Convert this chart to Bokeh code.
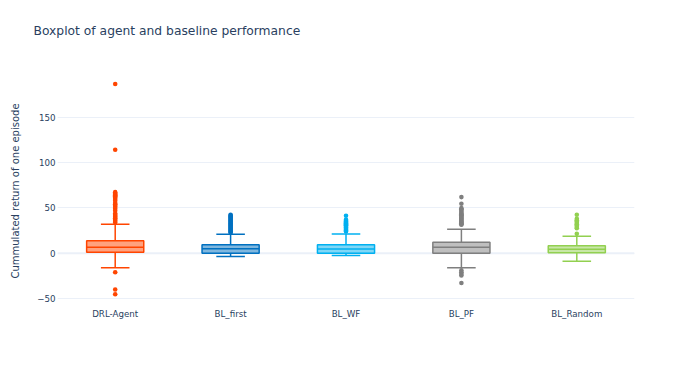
from bokeh.plotting import figure
from bokeh.models import FactorRange, Range1d, FixedTicker, Span, ColumnDataSource, Title
from bokeh.transform import dodge
from bokeh.embed import file_html
from bokeh.resources import INLINE

categories = ["DRL-Agent", "BL_first", "BL_WF", "BL_PF", "BL_Random"]
colors = ["#FF4500", "#0070C0", "#00B0F0", "#7F7F7F", "#92D050"]

lower_whisker = [-16.2, -3.6, -2.5, -16.2, -8.8]
q1 = [1.1, 0.0, 0.0, 0.0, 0.4]
median = [6.6, 4.8, 4.6, 6.6, 4.4]
q3 = [13.7, 9.2, 9.2, 12.2, 8.2]
upper_whisker = [32.0, 21.0, 21.3, 26.6, 18.8]

outliers_drl = [187, 114.4, 67.5, 66, 65, 64, 63, 61.5, 60, 58, 55.5, 54, 52.5, 51, 49, 47,
                44, 42.5, 41, 40, 38.5, 37, 35.5, 34, -21, -40.2, -45.4]
outliers_first = [42.5, 41.5, 40.5, 39.5, 38.5, 37.5, 36.5, 35.5, 34.5, 33.5, 32.5, 31.5, 30.5,
                  29.5, 28.5, 27.5, 26.5, 25.5, 24.5, 23.5, 22.5]
outliers_wf = [41.4, 37, 36, 35, 34, 33, 32, 31, 30, 29, 28, 27, 26, 25, 24]
outliers_pf = [62, 54.6, 49.8, 48.5, 47, 45.5, 44, 43, 42, 41, 40, 39, 38, 37, 36, 35, 34, 33,
               32, 31.4, -19, -21, -23, -24.6, -33]
outliers_random = [42.5, 38, 36.5, 35, 33.5, 32, 30.5, 29, 27.5, 21.4]
outliers = [outliers_drl, outliers_first, outliers_wf, outliers_pf, outliers_random]

TITLE = "Boxplot of agent and baseline performance"
FONT = "DejaVu Sans"
TXT = "#2a3f5f"
GRID = "#EBF0F8"
BOX_W = 0.495
CAP_W = 0.2475

p = figure(x_range=FactorRange(*categories), y_range=Range1d(-54.5, 192.0),
           width=678, height=349, output_backend="svg", toolbar_location=None,
           min_border_left=57, min_border_right=44, min_border_top=79, min_border_bottom=47)
p.outline_line_color = None
p.background_fill_color = "white"
p.border_fill_color = "white"

# spacer panel between frame and title, then the title itself (outermost)
p.add_layout(Title(text=" ", text_font_size="2px", standoff=38, text_color="white"), "above")
p.add_layout(Title(text=TITLE, text_font=FONT, text_font_size="12.3px", text_font_style="normal",
                   text_color=TXT, align="left", offset=-24, standoff=0), "above")

p.xgrid.grid_line_color = None
p.ygrid.grid_line_color = GRID
p.ygrid.grid_line_width = 1
p.add_layout(Span(location=0, dimension="width", line_color=GRID, line_width=2, level="underlay"))

p.yaxis.ticker = FixedTicker(ticks=[-50, 0, 50, 100, 150])
p.yaxis.major_label_overrides = {-50: "\u221250"}
for ax in (p.xaxis[0], p.yaxis[0]):
    ax.axis_line_color = None
    ax.major_tick_line_color = None
    ax.minor_tick_line_color = None
    ax.major_tick_out = 0
    ax.major_tick_in = 0
    ax.major_label_text_font = FONT
    ax.major_label_text_font_size = "8.7px"
    ax.major_label_text_color = TXT
p.yaxis.major_label_standoff = 2
p.xaxis.major_label_standoff = 6
p.yaxis.axis_label = "Cummulated return of one episode"
p.yaxis.axis_label_text_font = FONT
p.yaxis.axis_label_text_font_size = "10px"
p.yaxis.axis_label_text_font_style = "normal"
p.yaxis.axis_label_text_color = TXT
p.yaxis.axis_label_standoff = 13

src = ColumnDataSource(dict(cat=categories, color=colors, lo=lower_whisker, q1=q1,
                            med=median, q3=q3, hi=upper_whisker))
LW = 1.5
# whisker stems
p.segment(x0="cat", y0="q3", x1="cat", y1="hi", line_color="color", line_width=LW, source=src)
p.segment(x0="cat", y0="q1", x1="cat", y1="lo", line_color="color", line_width=LW, source=src)
# caps
p.segment(x0=dodge("cat", -CAP_W / 2, range=p.x_range), y0="hi",
          x1=dodge("cat", CAP_W / 2, range=p.x_range), y1="hi",
          line_color="color", line_width=LW, source=src)
p.segment(x0=dodge("cat", -CAP_W / 2, range=p.x_range), y0="lo",
          x1=dodge("cat", CAP_W / 2, range=p.x_range), y1="lo",
          line_color="color", line_width=LW, source=src)
# boxes
p.vbar(x="cat", bottom="q1", top="q3", width=BOX_W, fill_color="color", fill_alpha=0.5,
       line_color="color", line_width=LW, source=src)
# medians
p.segment(x0=dodge("cat", -BOX_W / 2, range=p.x_range), y0="med",
          x1=dodge("cat", BOX_W / 2, range=p.x_range), y1="med",
          line_color="color", line_width=LW, source=src)

# outliers
ox, oy, oc = [], [], []
for cat, col, vals in zip(categories, colors, outliers):
    for v in vals:
        ox.append(cat)
        oy.append(v)
        oc.append(col)
p.scatter(x=ox, y=oy, size=4.6, fill_color=oc, line_color=None)

open("out.html", "w").write(file_html(p, INLINE))
